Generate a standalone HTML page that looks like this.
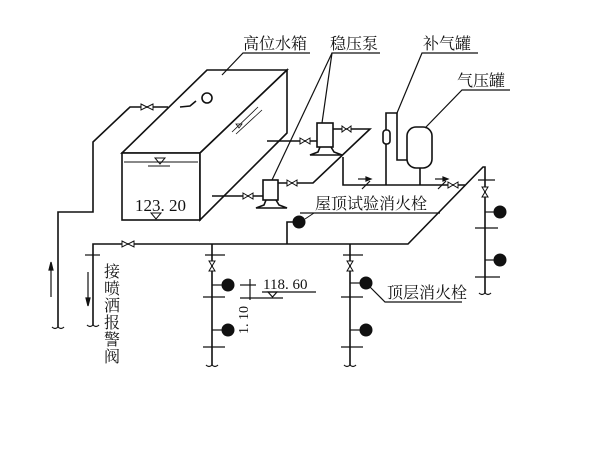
<!DOCTYPE html>
<html><head><meta charset="utf-8"><style>
html,body{margin:0;padding:0;background:#fff;width:600px;height:450px;overflow:hidden}
svg{display:block}
text{font-family:"Liberation Serif","Noto Serif CJK SC","Noto Sans CJK SC",serif;fill:#111}
</style></head><body>
<svg width="600" height="450" viewBox="0 0 600 450" xmlns="http://www.w3.org/2000/svg">
<g stroke="#111" fill="none" stroke-width="1.6">
<polygon points="122,153 207,70 287,70 200,153" fill="#fff"/>
<rect x="122" y="153" width="78" height="67" fill="#fff"/>
<polygon points="200,153 287,70 287,133 200,220" fill="#fff"/>
<line x1="124" y1="162" x2="198" y2="162" stroke-width="1"/>
<line x1="148" y1="166" x2="170" y2="166" stroke-width="1"/>
<polygon points="155,158 165,158 160,164" stroke-width="1"/>
<polygon points="151,213 161,213 156,219" stroke-width="1"/>
<line x1="232" y1="132" x2="258" y2="107" stroke-width="0.8"/>
<line x1="236" y1="134" x2="262" y2="110" stroke-width="0.8"/>
<polygon points="236,124 242,124 239,128" stroke-width="0.8"/>
<polyline points="58,327 58,212 93,212 93,142 130,107 168,107"/>
<polyline points="180,107 190,106 196,101"/>
<circle cx="207" cy="98" r="5"/>
<polyline points="93,325 93,244 408,244 483,167 485,167 485,293"/>
<rect x="317" y="123" width="16" height="24" fill="#fff"/>
<path d="M320,147 L318,152 L310,155 L342,155 L334,152 L331,147"/>
<line x1="267" y1="141" x2="317" y2="141"/>
<polyline points="333,129 370,129 313,183 278,183"/>
<rect x="263" y="180" width="15" height="20" fill="#fff"/>
<path d="M266,200 L264,205 L256,208 L287,208 L279,205 L276,200"/>
<line x1="212" y1="196" x2="263" y2="196"/>
<polyline points="343,157 343,185 465,185"/>
<rect x="383" y="130" width="7" height="14" rx="3" fill="#fff"/>
<line x1="386" y1="144" x2="386" y2="185"/>
<polyline points="386,130 386,113 397,113 397,160 407,160"/>
<rect x="407" y="127" width="25" height="41" rx="9" fill="#fff"/>
<line x1="420" y1="168" x2="420" y2="185"/>
<polyline points="287,244 287,222 293,222"/>
<line x1="305" y1="219" x2="314" y2="213" stroke-width="1"/>
<line x1="212" y1="244" x2="212" y2="365"/>
<line x1="350" y1="244" x2="350" y2="365"/>
<g stroke-width="1.2">
<line x1="85" y1="255" x2="100" y2="255"/>
<line x1="205" y1="255" x2="225" y2="255"/><line x1="343" y1="255" x2="363" y2="255"/>
<line x1="203" y1="297" x2="225" y2="297"/><line x1="341" y1="297" x2="363" y2="297"/>
<line x1="203" y1="347" x2="225" y2="347"/><line x1="341" y1="347" x2="363" y2="347"/>
<line x1="478" y1="180" x2="495" y2="180"/><line x1="475" y1="228" x2="498" y2="228"/><line x1="475" y1="277" x2="500" y2="277"/>
<line x1="212" y1="285" x2="222" y2="285"/><line x1="212" y1="330" x2="222" y2="330"/>
<line x1="350" y1="283" x2="360" y2="283"/><line x1="350" y1="330" x2="360" y2="330"/>
<line x1="485" y1="212" x2="494" y2="212"/><line x1="485" y1="260" x2="494" y2="260"/>
<path d="M52,327 q3,3 6,0 q3,3 6,0"/><path d="M87,325 q3,3 6,0 q3,3 6,0"/>
<path d="M206,365 q3,3 6,0 q3,3 6,0"/><path d="M344,365 q3,3 6,0 q3,3 6,0"/><path d="M479,293 q3,3 6,0 q3,3 6,0"/>
<line x1="51" y1="297" x2="51" y2="268"/><polygon points="49,270 53,270 51,262" fill="#111"/>
<line x1="88" y1="272" x2="88" y2="300"/><polygon points="86,298 90,298 88,306" fill="#111"/>
<line x1="262" y1="292" x2="316" y2="292"/>
<polygon points="268,292 277,292 272.5,297"/>
<line x1="240" y1="298" x2="283" y2="298"/>
<line x1="240" y1="285" x2="256" y2="285"/>
<line x1="250" y1="279" x2="250" y2="300"/>
<polyline points="310,53 243,53 222,75"/>
<polyline points="380,53 332,53 322,123"/>
<line x1="332" y1="53" x2="272" y2="180"/>
<polyline points="478,53 422,53 397,113"/>
<polyline points="510,90 462,90 425,128"/>
<line x1="300" y1="213" x2="440" y2="213"/>
<polyline points="370,287 385,302 462,302"/>
<line x1="358" y1="179" x2="368" y2="179"/><polygon points="366,177 366,181 371,179" fill="#111"/>
<line x1="435" y1="179" x2="445" y2="179"/><polygon points="443,177 443,181 448,179" fill="#111"/>
<line x1="362" y1="189" x2="370" y2="181"/><line x1="438" y1="189" x2="446" y2="181"/>
</g>
<g stroke-width="1" fill="#fff">
<path d="M141,104 l6,3 l-6,3 z M153,104 l-6,3 l6,3 z"/>
<path d="M122,241 l6,3 l-6,3 z M134,241 l-6,3 l6,3 z"/>
<path d="M300,138 l5,3 l-5,3 z M310,138 l-5,3 l5,3 z"/>
<path d="M342,126 l4,3 l-4,3 z M351,126 l-4,3 l4,3 z"/>
<path d="M243,193 l5,3 l-5,3 z M253,193 l-5,3 l5,3 z"/>
<path d="M287,180 l5,3 l-5,3 z M297,180 l-5,3 l5,3 z"/>
<path d="M448,182 l5,3 l-5,3 z M458,182 l-5,3 l5,3 z"/>
<path d="M209,261 l3,5 l3,-5 z M209,271 l3,-5 l3,5 z"/>
<path d="M347,261 l3,5 l3,-5 z M347,271 l3,-5 l3,5 z"/>
<path d="M482,187 l3,5 l3,-5 z M482,197 l3,-5 l3,5 z"/>
</g>
<g stroke-width="1">
<circle cx="299" cy="222" r="6" fill="#111"/>
<circle cx="228" cy="285" r="6" fill="#111"/><circle cx="228" cy="330" r="6" fill="#111"/>
<circle cx="366" cy="283" r="6" fill="#111"/><circle cx="366" cy="330" r="6" fill="#111"/>
<circle cx="500" cy="212" r="6" fill="#111"/><circle cx="500" cy="260" r="6" fill="#111"/>
</g>
</g>
<g font-size="16">
<text x="243" y="49">高位水箱</text>
<text x="330" y="49">稳压泵</text>
<text x="423" y="49">补气罐</text>
<text x="457" y="86">气压罐</text>
<text x="315" y="209">屋顶试验消火栓</text>
<text x="387" y="298">顶层消火栓</text>
<text x="104" y="277">接</text><text x="104" y="294">喷</text><text x="104" y="311">洒</text><text x="104" y="328">报</text><text x="104" y="345">警</text><text x="104" y="362">阀</text>
<text x="135" y="211" font-size="17">123. 20</text>
<text x="263" y="289" font-size="15">118. 60</text>
<text transform="translate(248,334) rotate(-90)" font-size="14">1. 10</text>
</g>
</svg>
</body></html>
